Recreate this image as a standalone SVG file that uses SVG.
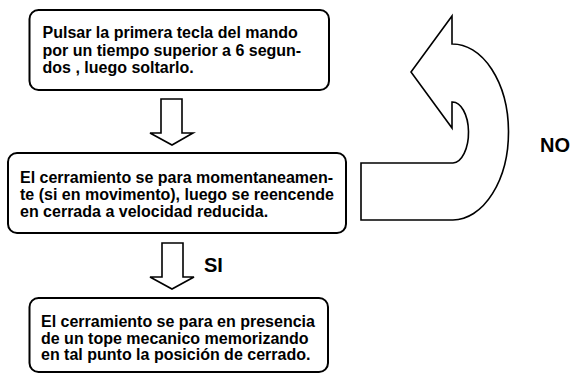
<svg xmlns="http://www.w3.org/2000/svg" width="570" height="374" viewBox="0 0 570 374">
<style>
.box{fill:#fff;stroke:#000;stroke-width:2}
.arr{fill:#fff;stroke:#000;stroke-width:1.6;stroke-linejoin:miter}
.t{font-family:"Liberation Sans",Arial,sans-serif;font-weight:bold;font-size:16px;fill:#000}
.lbl{font-family:"Liberation Sans",Arial,sans-serif;font-weight:bold;font-size:20px;fill:#000}
</style>
<rect width="570" height="374" fill="#fff"/>
<g id="connectors">
<path class="arr" d="M161,99 H182 V133 H193 L172,145 L150,133 H161 Z"/>
<path class="arr" d="M162,243 H183 V277 H194 L172,289 L150,277 H162 Z"/>
<path class="arr" d="M361,220 H453 A56,88 0 0 0 452,44 V16 L411,72 L452,128 V102 A16,30.5 0 0 1 453,163 H361 Z"/>
<text class="lbl" x="204" y="272">SI</text>
<text class="lbl" x="540" y="152">NO</text>
</g>
<g id="node1">
<rect class="box" x="29.5" y="10" width="299.5" height="80" rx="9"/>
<text class="t" x="42.5" y="38">Pulsar la primera tecla del mando</text>
<text class="t" x="42.5" y="55.5">por un tiempo superior a 6 segun-</text>
<text class="t" x="42.5" y="73">dos , luego soltarlo.</text>
</g>
<g id="node2">
<rect class="box" x="8" y="153" width="338" height="80" rx="9"/>
<text class="t" x="20" y="183">El cerramiento se para momentaneamen-</text>
<text class="t" x="20" y="200">te (si en movimento), luego se reencende</text>
<text class="t" x="20" y="217">en cerrada a velocidad reducida.</text>
</g>
<g id="node3">
<rect class="box" x="29.5" y="298" width="298.5" height="74" rx="9"/>
<text class="t" x="41" y="327">El cerramiento se para en presencia</text>
<text class="t" x="41" y="343.5">de un tope mecanico memorizando</text>
<text class="t" x="41" y="360">en tal punto la posición de cerrado.</text>
</g>
</svg>
